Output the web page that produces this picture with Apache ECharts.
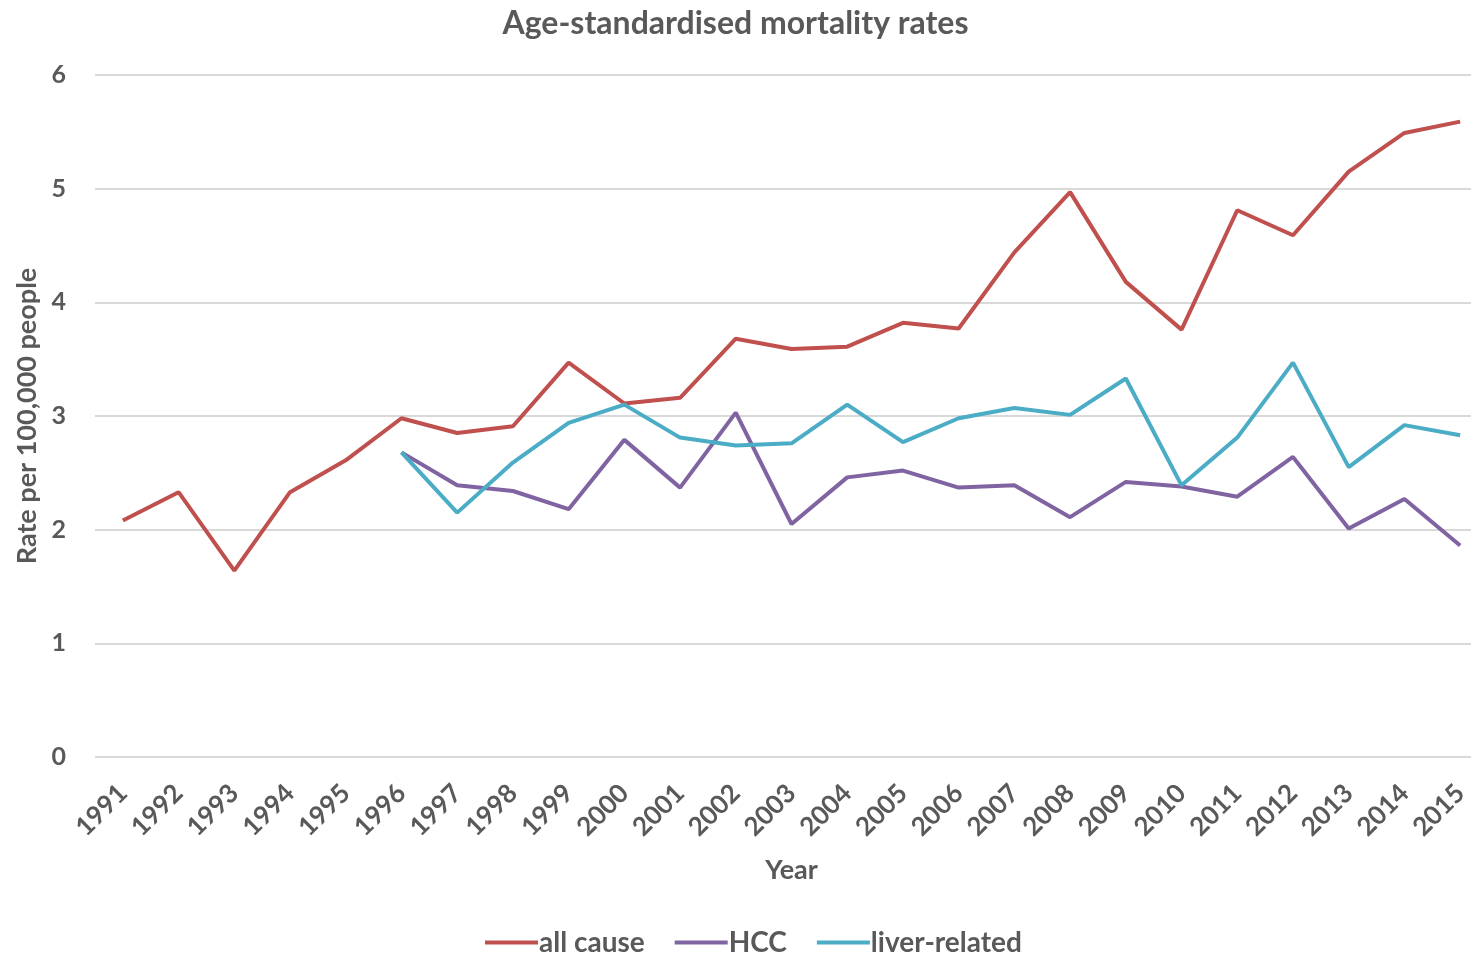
<!DOCTYPE html>
<html>
<head>
  <title>mortality</title>
  <script src="https://cdn.jsdelivr.net/npm/echarts@6/dist/echarts.min.js"></script>
  <style>
    body { margin: 0; background: #fff; }
    #main { width: 1471px; height: 956px; }
  </style>
</head>
<body>
  <div id="main"></div>
  <script>
    var years = ['1991', '1992', '1993', '1994', '1995', '1996', '1997', '1998', '1999', '2000', '2001', '2002', '2003',
      '2004', '2005', '2006', '2007', '2008', '2009', '2010', '2011', '2012', '2013', '2014', '2015'];
    var allCause = [2.08, 2.33, 1.64, 2.33, 2.61, 2.98, 2.85, 2.91, 3.47, 3.11, 3.16, 3.68, 3.59,
      3.61, 3.82, 3.77, 4.44, 4.97, 4.18, 3.76, 4.81, 4.59, 5.15, 5.49, 5.59];
    var hcc = ['-', '-', '-', '-', '-', 2.68, 2.39, 2.34, 2.18, 2.79, 2.37, 3.03, 2.05,
      2.46, 2.52, 2.37, 2.39, 2.11, 2.42, 2.38, 2.29, 2.64, 2.01, 2.27, 1.86];
    var liverRelated = ['-', '-', '-', '-', '-', 2.68, 2.15, 2.59, 2.94, 3.10, 2.81, 2.74, 2.76,
      3.10, 2.77, 2.98, 3.07, 3.01, 3.33, 2.39, 2.81, 3.47, 2.55, 2.92, 2.83];

    var textColor = '#595959';
    var font = 'Lato';
    var myChart = echarts.init(document.getElementById('main'));

    var option = {
      color: ['#C0504D', '#8064A2', '#4BACC6'],
      title: {
        text: 'Age-standardised mortality rates',
        left: 'center',
        top: -6,
        textStyle: { fontFamily: font, fontSize: 32, fontWeight: 'bold', color: textColor }
      },
      legend: {
        bottom: -13,
        left: 480,
        icon: 'rect',
        itemWidth: 53,
        itemHeight: 4,
        itemGap: 30,
        textStyle: { fontFamily: font, fontSize: 28, fontWeight: 'bold', color: textColor, padding: [0, 0, 0, -4] },
        data: ['all cause', 'HCC', 'liver-related']
      },
      grid: {
        left: 95,
        right: -17,
        top: 75,
        bottom: 199,
        outerBoundsMode: 'none',
        containLabel: false
      },
      xAxis: {
        type: 'category',
        data: years,
        name: 'Year',
        nameLocation: 'middle',
        nameGap: 93,
        nameMoveOverlap: false,
        nameTextStyle: { fontFamily: font, fontSize: 27, fontWeight: 'bold', color: textColor },
        axisLine: { show: false },
        axisTick: { show: false },
        axisLabel: {
          rotate: 45,
          interval: 0,
          margin: 32,
          fontFamily: font,
          fontSize: 26,
          fontWeight: 'bold',
          color: textColor
        }
      },
      yAxis: {
        type: 'value',
        min: 0,
        max: 6,
        interval: 1,
        name: 'Rate per 100,000 people',
        nameLocation: 'middle',
        nameGap: 47,
        nameMoveOverlap: false,
        nameTextStyle: { fontFamily: font, fontSize: 27, fontWeight: 'bold', color: textColor },
        axisLabel: {
          margin: 29,
          fontFamily: font,
          fontSize: 25,
          fontWeight: 'bold',
          color: textColor
        },
        splitLine: { lineStyle: { color: '#d9d9d9', width: 2 } }
      },
      series: [
        {
          name: 'all cause',
          type: 'line',
          data: allCause,
          symbol: 'none',
          lineStyle: { width: 4 }
        },
        {
          name: 'HCC',
          type: 'line',
          data: hcc,
          symbol: 'none',
          lineStyle: { width: 4 }
        },
        {
          name: 'liver-related',
          type: 'line',
          data: liverRelated,
          symbol: 'none',
          lineStyle: { width: 4 }
        }
      ]
    };
    myChart.setOption(option);
  </script>
</body>
</html>
